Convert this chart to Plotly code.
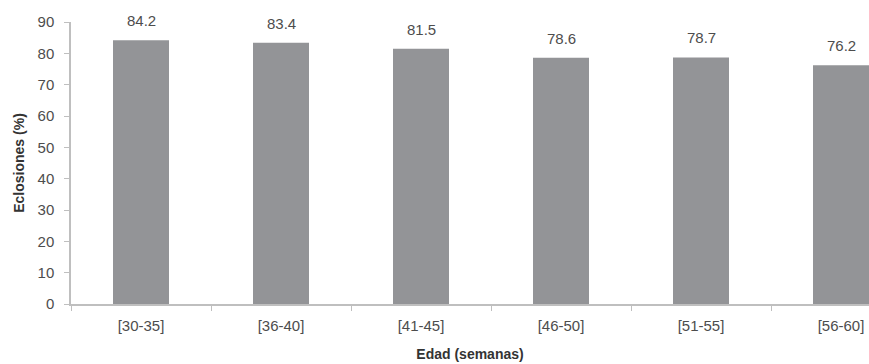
import plotly.graph_objects as go

# Hatching rate by hen age group
categories = ["[30-35]", "[36-40]", "[41-45]", "[46-50]", "[51-55]", "[56-60]"]
eclosiones = [84.2, 83.4, 81.5, 78.6, 78.7, 76.2]
y_ticks = [0, 10, 20, 30, 40, 50, 60, 70, 80, 90]

font_family = "Liberation Sans, Arial, sans-serif"
text_color = "#4d4d4d"
title_color = "#333333"
axis_color = "#bfbfbf"

fig = go.Figure()
fig.add_trace(go.Bar(
    x=categories,
    y=eclosiones,
    width=0.4,
    marker=dict(color="#939497", line=dict(width=0)),
    cliponaxis=False,
))

for cat, val in zip(categories, eclosiones):
    fig.add_annotation(
        x=cat, y=val, text=f"{val:.1f}", showarrow=False,
        yanchor="bottom", yshift=9,
        font=dict(family=font_family, size=15, color=text_color),
    )

fig.update_layout(
    width=869, height=364,
    margin=dict(l=71, r=0, t=22, b=60),
    paper_bgcolor="white", plot_bgcolor="white",
    showlegend=False,
    font=dict(family=font_family, size=15, color=text_color),
)

fig.update_xaxes(
    type="category",
    range=[-0.5, 5.2],
    showline=True, linecolor=axis_color, linewidth=1.5,
    ticks="outside", tickson="boundaries", ticklen=5, tickcolor=axis_color,
    ticklabelstandoff=7,
    showgrid=False, zeroline=False,
    tickfont=dict(size=15, color=text_color),
    title=dict(text="<b>Edad (semanas)</b>", font=dict(size=14, color=title_color), standoff=16),
)

fig.update_yaxes(
    range=[0, 90],
    tickvals=y_ticks,
    showline=True, linecolor=axis_color, linewidth=1.5,
    ticks="outside", ticklen=5, tickcolor=axis_color,
    ticklabelstandoff=7,
    showgrid=False, zeroline=False,
    tickfont=dict(size=15, color=text_color),
    title=dict(text="<b>Eclosiones (%)</b>", font=dict(size=14, color=title_color), standoff=10),
)

fig.write_html("out.html")
